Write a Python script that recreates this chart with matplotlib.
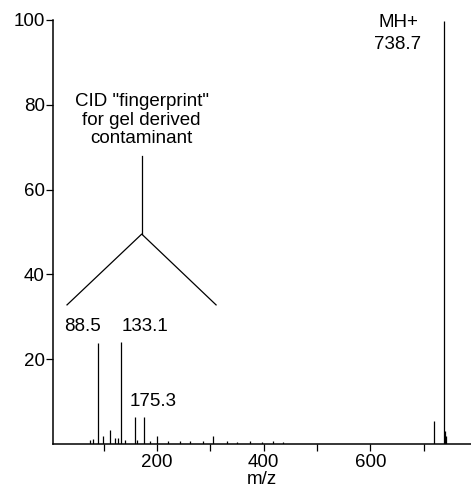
import matplotlib.pyplot as plt

# peak list (m/z, relative intensity %)
mz = [74, 80, 88.5, 98.5, 111.7, 121, 126.7, 133.1, 140, 158.5, 162, 175.3,
      187, 200, 220.6, 243, 262, 286, 304.5, 331, 350, 374, 397, 418, 436,
      720, 738.7, 740.5, 742]
intensity = [1.0, 1.2, 23.8, 2.0, 3.3, 1.5, 1.5, 24.0, 1.0, 6.4, 1.0, 6.4,
             0.8, 2.0, 0.8, 0.6, 0.8, 0.8, 2.0, 0.7, 0.5, 0.6, 0.4, 0.6, 0.5,
             5.4, 99.8, 3.0, 2.0]

yticks = [20, 40, 60, 80, 100]
xticks = [100, 200, 300, 400, 500, 600, 700]
xticklabels = ['', '200', '', '400', '', '600', '']

plt.rcParams['font.family'] = ['Liberation Sans', 'DejaVu Sans']

fig = plt.figure(figsize=(4.71, 4.88), dpi=100)
ax = fig.add_axes([0.1125, 0.0902, 0.8875, 0.8689])

ax.vlines(mz, 0, intensity, colors='black', linewidth=0.9)

ax.set_xlim(4.7, 789)
ax.set_ylim(0, 100)
ax.set_yticks(yticks)
ax.set_xticks(xticks)
ax.set_xticklabels(xticklabels)
ax.tick_params(axis='both', direction='out', length=5, width=0.9,
               labelsize=13.5, colors='black')
ax.tick_params(axis='y', pad=1)
ax.tick_params(axis='x', pad=2)
for s in ['top', 'right']:
    ax.spines[s].set_visible(False)
for s in ['left', 'bottom']:
    ax.spines[s].set_linewidth(1.1)
ax.set_xlabel('m/z', fontsize=13.5, labelpad=0)

# annotation for the contaminant fingerprint
ax.text(171, 76.4, 'CID "fingerprint"\nfor gel derived\ncontaminant',
        ha='center', va='center', fontsize=13.5, linespacing=1.15)
ax.plot([171.2, 171.2], [67.9, 49.5], color='black', linewidth=0.9)
ax.plot([31, 171.2, 310.7], [32.8, 49.5, 32.8], color='black', linewidth=0.9)

# peak labels
ax.text(61, 27.8, '88.5', ha='center', va='center', fontsize=13.5)
ax.text(177, 27.8, '133.1', ha='center', va='center', fontsize=13.5)
ax.text(193, 10.0, '175.3', ha='center', va='center', fontsize=13.5)
ax.text(652, 99.3, 'MH+', ha='center', va='center', fontsize=13.5)
ax.text(652, 94.3, '738.7', ha='center', va='center', fontsize=13.5)

for t in ax.texts:
    t.set_clip_on(False)

fig.savefig('out.png', dpi=100)
